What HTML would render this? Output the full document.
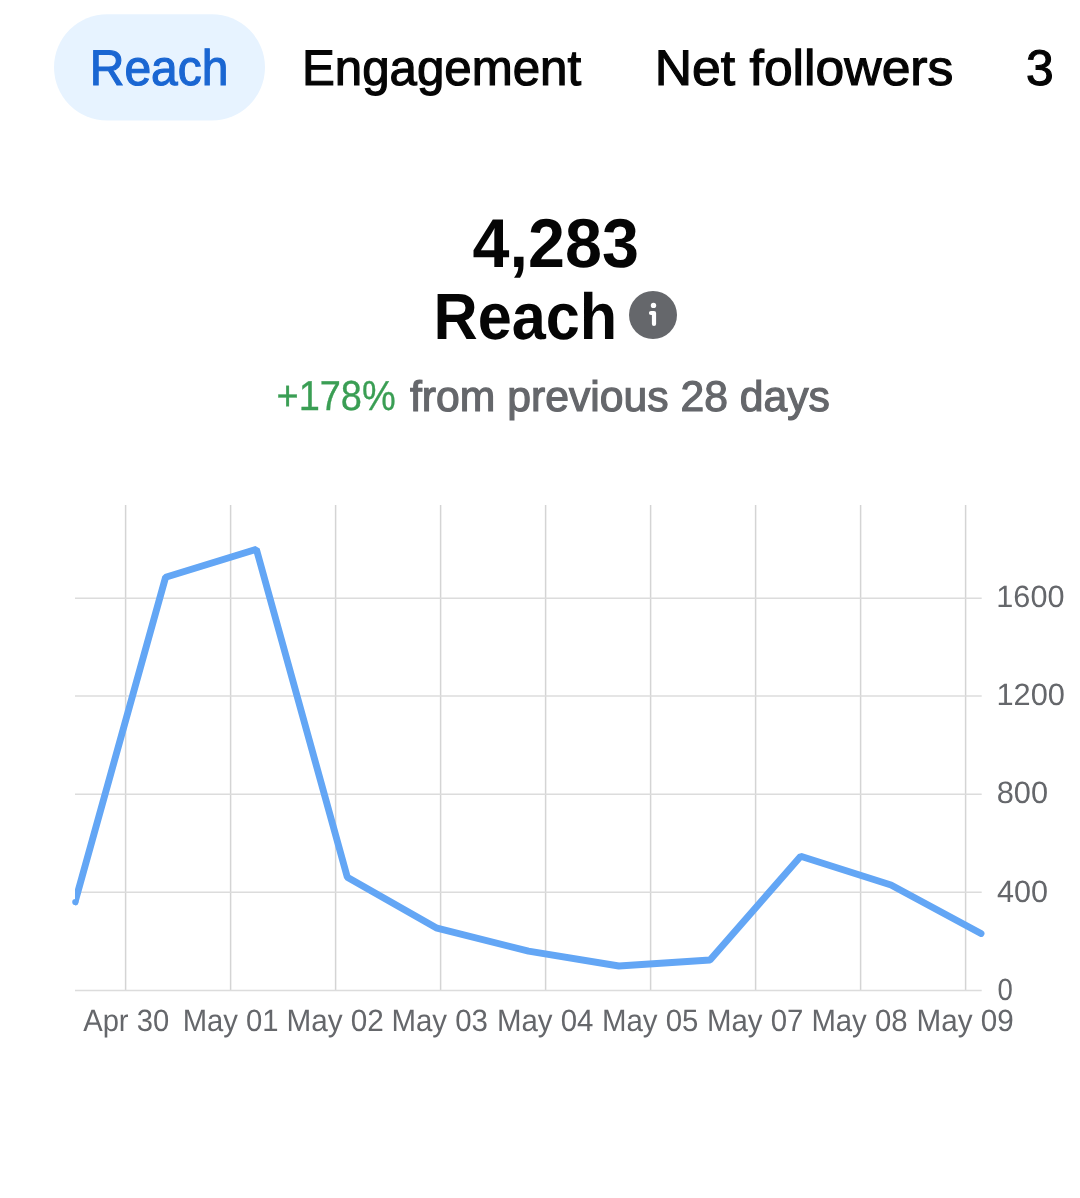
<!DOCTYPE html>
<html lang="en">
<head>
<meta charset="utf-8">
<title>Reach insights</title>
<style>
  html, body { margin: 0; padding: 0; background: #ffffff; }
  body { width: 1080px; height: 1198px; overflow: hidden; position: relative; }
  svg { position: absolute; left: 0; top: 0; display: block; will-change: transform; }
  text { font-family: "Liberation Sans", Arial, sans-serif; text-rendering: geometricPrecision; }
  .tab { font-size: 49.9px; fill: #050505; stroke: #050505; stroke-width: 1.15px; }
  .tab.on { fill: #1A66D2; stroke: #1A66D2; }
  .big { font-size: 69px; font-weight: bold; fill: #050505; }
  .ttl { font-size: 65.3px; font-weight: bold; fill: #050505; }
  .grn { font-size: 41.9px; fill: #3A9E54; stroke: #3A9E54; stroke-width: 0.35px; }
  .gry { font-size: 42.8px; fill: #65676B; stroke: #65676B; stroke-width: 1.2px; }
  .ax { font-size: 30.8px; fill: #65676B; }
  .grid line { stroke: #DCDCDC; stroke-width: 1.5px; }
  .grid line.v { stroke: #D4D4D4; }
</style>
</head>
<body>
<svg width="1080" height="1198" viewBox="0 0 1080 1198">
  <defs>
    <clipPath id="plot"><rect x="75.0" y="480" width="1000" height="530"/></clipPath>
  </defs>
  <rect x="54" y="14.2" width="211" height="106.3" rx="53.15" ry="53.15" fill="#E7F3FF"/>
  <g class="grid">
    <line class="v" x1="125.60" y1="505.0" x2="125.60" y2="990.4"/>
    <line class="v" x1="230.60" y1="505.0" x2="230.60" y2="990.4"/>
    <line class="v" x1="335.60" y1="505.0" x2="335.60" y2="990.4"/>
    <line class="v" x1="440.60" y1="505.0" x2="440.60" y2="990.4"/>
    <line class="v" x1="545.60" y1="505.0" x2="545.60" y2="990.4"/>
    <line class="v" x1="650.60" y1="505.0" x2="650.60" y2="990.4"/>
    <line class="v" x1="755.60" y1="505.0" x2="755.60" y2="990.4"/>
    <line class="v" x1="860.60" y1="505.0" x2="860.60" y2="990.4"/>
    <line class="v" x1="965.60" y1="505.0" x2="965.60" y2="990.4"/>
    <line x1="75.0" y1="598.20" x2="981.7" y2="598.20"/>
    <line x1="75.0" y1="696.10" x2="981.7" y2="696.10"/>
    <line x1="75.0" y1="794.20" x2="981.7" y2="794.20"/>
    <line x1="75.0" y1="892.30" x2="981.7" y2="892.30"/>
    <line x1="75.0" y1="990.40" x2="981.7" y2="990.40"/>
  </g>
  <circle cx="653" cy="315" r="24" fill="#65676B"/>
  <circle cx="653.5" cy="305.4" r="2.7" fill="#ffffff"/>
  <path d="M651 313 H654 V324" fill="none" stroke="#ffffff" stroke-width="4.2" stroke-linecap="round" stroke-linejoin="round"/>
  <text class="tab on" x="89.73" y="85.00" textLength="138.73" lengthAdjust="spacingAndGlyphs">Reach</text>
  <text class="tab" x="301.94" y="85.00" textLength="279.24" lengthAdjust="spacingAndGlyphs">Engagement</text>
  <text class="tab" x="654.79" y="85.00" textLength="298.62" lengthAdjust="spacingAndGlyphs">Net followers</text>
  <text class="tab" x="1026.05" y="85.00" textLength="27.69" lengthAdjust="spacingAndGlyphs">3</text>
  <text class="big" x="472.52" y="267.20" textLength="166.34" lengthAdjust="spacingAndGlyphs">4,283</text>
  <text class="ttl" x="433.48" y="338.90" textLength="183.66" lengthAdjust="spacingAndGlyphs">Reach</text>
  <text class="grn" x="276.50" y="410.00" textLength="119.22" lengthAdjust="spacingAndGlyphs">+178%</text>
  <text class="gry" x="410.00" y="411.10" textLength="419.92" lengthAdjust="spacingAndGlyphs">from previous 28 days</text>
  <text class="ax" x="996.31" y="607.30" textLength="68.19" lengthAdjust="spacingAndGlyphs">1600</text>
  <text class="ax" x="996.53" y="705.10" textLength="68.42" lengthAdjust="spacingAndGlyphs">1200</text>
  <text class="ax" x="996.71" y="803.40" textLength="51.30" lengthAdjust="spacingAndGlyphs">800</text>
  <text class="ax" x="996.97" y="902.00" textLength="51.03" lengthAdjust="spacingAndGlyphs">400</text>
  <text class="ax" x="997.43" y="999.60" textLength="15.34" lengthAdjust="spacingAndGlyphs">0</text>
  <text class="ax" x="83.18" y="1030.70" textLength="85.96" lengthAdjust="spacingAndGlyphs">Apr 30</text>
  <text class="ax" x="182.64" y="1030.70" textLength="95.97" lengthAdjust="spacingAndGlyphs">May 01</text>
  <text class="ax" x="286.44" y="1030.70" textLength="97.41" lengthAdjust="spacingAndGlyphs">May 02</text>
  <text class="ax" x="391.45" y="1030.70" textLength="96.52" lengthAdjust="spacingAndGlyphs">May 03</text>
  <text class="ax" x="496.96" y="1030.70" textLength="96.52" lengthAdjust="spacingAndGlyphs">May 04</text>
  <text class="ax" x="601.97" y="1030.70" textLength="96.52" lengthAdjust="spacingAndGlyphs">May 05</text>
  <text class="ax" x="706.98" y="1030.70" textLength="96.52" lengthAdjust="spacingAndGlyphs">May 07</text>
  <text class="ax" x="811.39" y="1030.70" textLength="96.20" lengthAdjust="spacingAndGlyphs">May 08</text>
  <text class="ax" x="916.61" y="1030.70" textLength="97.22" lengthAdjust="spacingAndGlyphs">May 09</text>
  <g clip-path="url(#plot)">
    <polyline fill="none" stroke="#63A6F5" stroke-width="6.9" stroke-linecap="round" stroke-linejoin="bevel" points="75.0,902.0 165.6,577.3 256.4,549.3 347.3,877.2 437.0,928.2 528.5,951.1 618.9,966.0 710.0,960.0 800.7,856.3 891.0,885.0 981.0,933.5"/>
  </g>
  <circle cx="75.3" cy="902" r="3.1" fill="#63A6F5"/>
</svg>
</body>
</html>
